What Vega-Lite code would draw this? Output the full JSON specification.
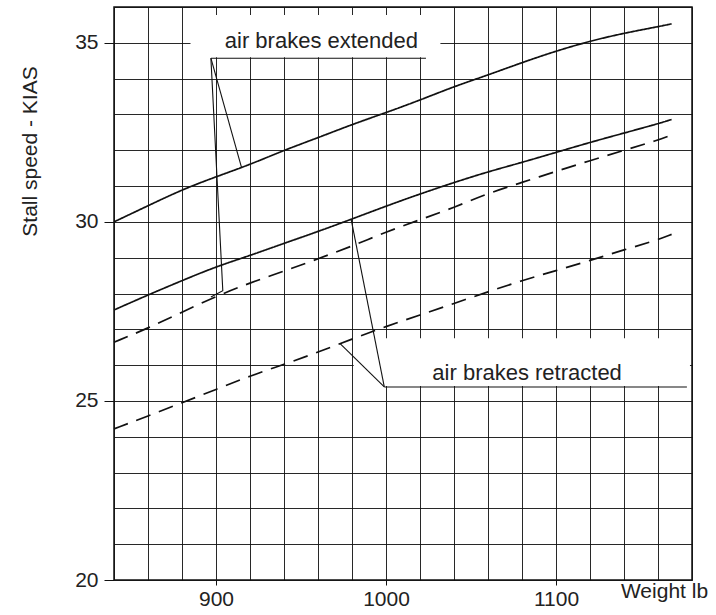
{
  "$schema": "https://vega.github.io/schema/vega-lite/v6.json",
  "width": 578,
  "height": 573,
  "autosize": {"type": "none"},
  "padding": {"left": 114, "top": 7, "right": 24, "bottom": 35},
  "background": "white",
  "config": {"view": {"stroke": "#111", "strokeWidth": 1.5}, "font": "Liberation Sans"},
  "datasets": {
    "curves": [
      {"c": "A", "w": 840, "s": 30.0}, {"c": "A", "w": 860, "s": 30.45}, {"c": "A", "w": 880, "s": 30.9}, {"c": "A", "w": 900, "s": 31.26},
      {"c": "A", "w": 920, "s": 31.6}, {"c": "A", "w": 940, "s": 32.0}, {"c": "A", "w": 960, "s": 32.35}, {"c": "A", "w": 980, "s": 32.72},
      {"c": "A", "w": 1000, "s": 33.05}, {"c": "A", "w": 1020, "s": 33.4}, {"c": "A", "w": 1040, "s": 33.78}, {"c": "A", "w": 1060, "s": 34.1},
      {"c": "A", "w": 1080, "s": 34.45}, {"c": "A", "w": 1100, "s": 34.77}, {"c": "A", "w": 1120, "s": 35.05}, {"c": "A", "w": 1140, "s": 35.27},
      {"c": "A", "w": 1160, "s": 35.45}, {"c": "A", "w": 1168, "s": 35.53},
      {"c": "B", "w": 840, "s": 27.54}, {"c": "B", "w": 860, "s": 27.96}, {"c": "B", "w": 880, "s": 28.36}, {"c": "B", "w": 900, "s": 28.75},
      {"c": "B", "w": 920, "s": 29.06}, {"c": "B", "w": 940, "s": 29.4}, {"c": "B", "w": 960, "s": 29.73}, {"c": "B", "w": 980, "s": 30.08},
      {"c": "B", "w": 1000, "s": 30.44}, {"c": "B", "w": 1020, "s": 30.78}, {"c": "B", "w": 1040, "s": 31.1}, {"c": "B", "w": 1060, "s": 31.4},
      {"c": "B", "w": 1080, "s": 31.66}, {"c": "B", "w": 1100, "s": 31.94}, {"c": "B", "w": 1120, "s": 32.22}, {"c": "B", "w": 1140, "s": 32.48},
      {"c": "B", "w": 1160, "s": 32.74}, {"c": "B", "w": 1168, "s": 32.86},
      {"c": "C", "w": 840, "s": 26.64}, {"c": "C", "w": 860, "s": 27.03}, {"c": "C", "w": 880, "s": 27.48}, {"c": "C", "w": 900, "s": 27.92},
      {"c": "C", "w": 920, "s": 28.3}, {"c": "C", "w": 940, "s": 28.62}, {"c": "C", "w": 960, "s": 28.97}, {"c": "C", "w": 980, "s": 29.32},
      {"c": "C", "w": 1000, "s": 29.72}, {"c": "C", "w": 1020, "s": 30.06}, {"c": "C", "w": 1040, "s": 30.4}, {"c": "C", "w": 1060, "s": 30.8},
      {"c": "C", "w": 1080, "s": 31.1}, {"c": "C", "w": 1100, "s": 31.41}, {"c": "C", "w": 1120, "s": 31.71}, {"c": "C", "w": 1140, "s": 32.0},
      {"c": "C", "w": 1160, "s": 32.28}, {"c": "C", "w": 1168, "s": 32.43},
      {"c": "D", "w": 840, "s": 24.22}, {"c": "D", "w": 860, "s": 24.58}, {"c": "D", "w": 880, "s": 24.95}, {"c": "D", "w": 900, "s": 25.32},
      {"c": "D", "w": 920, "s": 25.7}, {"c": "D", "w": 940, "s": 26.02}, {"c": "D", "w": 960, "s": 26.36}, {"c": "D", "w": 980, "s": 26.73},
      {"c": "D", "w": 1000, "s": 27.08}, {"c": "D", "w": 1020, "s": 27.4}, {"c": "D", "w": 1040, "s": 27.72}, {"c": "D", "w": 1060, "s": 28.05},
      {"c": "D", "w": 1080, "s": 28.36}, {"c": "D", "w": 1100, "s": 28.64}, {"c": "D", "w": 1120, "s": 28.92}, {"c": "D", "w": 1140, "s": 29.22},
      {"c": "D", "w": 1160, "s": 29.5}, {"c": "D", "w": 1168, "s": 29.65}
    ],
    "boxes": [
      {"w": 885, "w2": 1032, "s": 34.6, "s2": 35.78},
      {"w": 981, "w2": 1178.8, "s": 25.42, "s2": 26.75}
    ],
    "leaders": [
      {"id": "e1", "o": 1, "w": 897, "s": 34.57}, {"id": "e1", "o": 2, "w": 1023.5, "s": 34.57},
      {"id": "e2", "o": 1, "w": 897, "s": 34.57}, {"id": "e2", "o": 2, "w": 915, "s": 31.52},
      {"id": "e3", "o": 1, "w": 897, "s": 34.57}, {"id": "e3", "o": 2, "w": 904, "s": 28.08}, {"id": "e3", "o": 3, "w": 897, "s": 27.9},
      {"id": "r1", "o": 1, "w": 999, "s": 25.39}, {"id": "r1", "o": 2, "w": 1177, "s": 25.39},
      {"id": "r2", "o": 1, "w": 979.5, "s": 30.07}, {"id": "r2", "o": 2, "w": 999, "s": 25.39},
      {"id": "r3", "o": 1, "w": 973, "s": 26.6}, {"id": "r3", "o": 2, "w": 999, "s": 25.39}
    ],
    "labels": [
      {"w": 962, "s": 34.85, "t": "air brakes extended"},
      {"w": 1083, "s": 25.58, "t": "air brakes retracted"}
    ]
  },
  "encoding": {
    "x": {
      "field": "w", "type": "quantitative",
      "scale": {"domain": [840, 1180], "nice": false, "zero": false},
      "axis": {
        "title": "Weight lb",
        "values": [840, 860, 880, 900, 920, 940, 960, 980, 1000, 1020, 1040, 1060, 1080, 1100, 1120, 1140, 1160, 1180],
        "format": "d",
        "grid": true, "gridColor": "#111", "gridWidth": 1, "gridOpacity": 0.9,
        "domain": false,
        "tickSize": 5, "tickColor": "#111",
        "tickOpacity": {"condition": {"test": "datum.value % 100 === 0 && datum.value > 840 && datum.value < 1180", "value": 1}, "value": 0},
        "labelExpr": "datum.value % 100 === 0 && datum.value > 840 && datum.value < 1180 ? datum.label : ''",
        "labelFontSize": 21, "labelColor": "#222", "labelPadding": 3, "labelFlush": false, "labelOverlap": false,
        "titleFontSize": 21, "titleFontWeight": "normal", "titleColor": "#222",
        "titleX": 550, "titleY": 17, "titleAlign": "center", "titleBaseline": "alphabetic"
      }
    },
    "y": {
      "field": "s", "type": "quantitative",
      "scale": {"domain": [20, 36], "nice": false, "zero": false},
      "axis": {
        "title": "Stall speed - KIAS",
        "values": [20, 21, 22, 23, 24, 25, 26, 27, 28, 29, 30, 31, 32, 33, 34, 35, 36],
        "grid": true, "gridColor": "#111", "gridWidth": 1, "gridOpacity": 0.9,
        "domain": false,
        "tickSize": 10, "tickColor": "#111",
        "tickOpacity": {"condition": {"test": "datum.value % 5 === 0 && datum.value < 36", "value": 1}, "value": 0},
        "labelExpr": "datum.value % 5 === 0 && datum.value < 36 ? datum.label : ''",
        "labelFontSize": 21, "labelColor": "#222", "labelPadding": 6, "labelOverlap": false,
        "titleFontSize": 21, "titleFontWeight": "normal", "titleColor": "#222",
        "titleX": -84, "titleY": 144, "titleAngle": -90, "titleAlign": "center", "titleBaseline": "middle"
      }
    }
  },
  "layer": [
    {
      "data": {"name": "boxes"},
      "mark": {"type": "rect", "fill": "white", "strokeWidth": 0},
      "encoding": {"x2": {"field": "w2"}, "y2": {"field": "s2"}}
    },
    {
      "data": {"name": "curves"},
      "mark": {"type": "line", "color": "#111", "strokeWidth": 1.7, "interpolate": "basis"},
      "encoding": {
        "detail": {"field": "c", "type": "nominal"},
        "strokeDash": {"field": "c", "type": "nominal", "scale": {"domain": ["A", "B", "C", "D"], "range": [[1, 0], [1, 0], [15, 9], [15, 9]]}, "legend": null}
      }
    },
    {
      "data": {"name": "leaders"},
      "mark": {"type": "line", "color": "#111", "strokeWidth": 1.1},
      "encoding": {
        "detail": {"field": "id", "type": "nominal"},
        "order": {"field": "o", "type": "quantitative"}
      }
    },
    {
      "data": {"name": "labels"},
      "mark": {"type": "text", "align": "center", "baseline": "alphabetic", "fontSize": 22, "color": "#222", "font": "Liberation Sans"},
      "encoding": {"text": {"field": "t", "type": "nominal"}}
    }
  ]
}
